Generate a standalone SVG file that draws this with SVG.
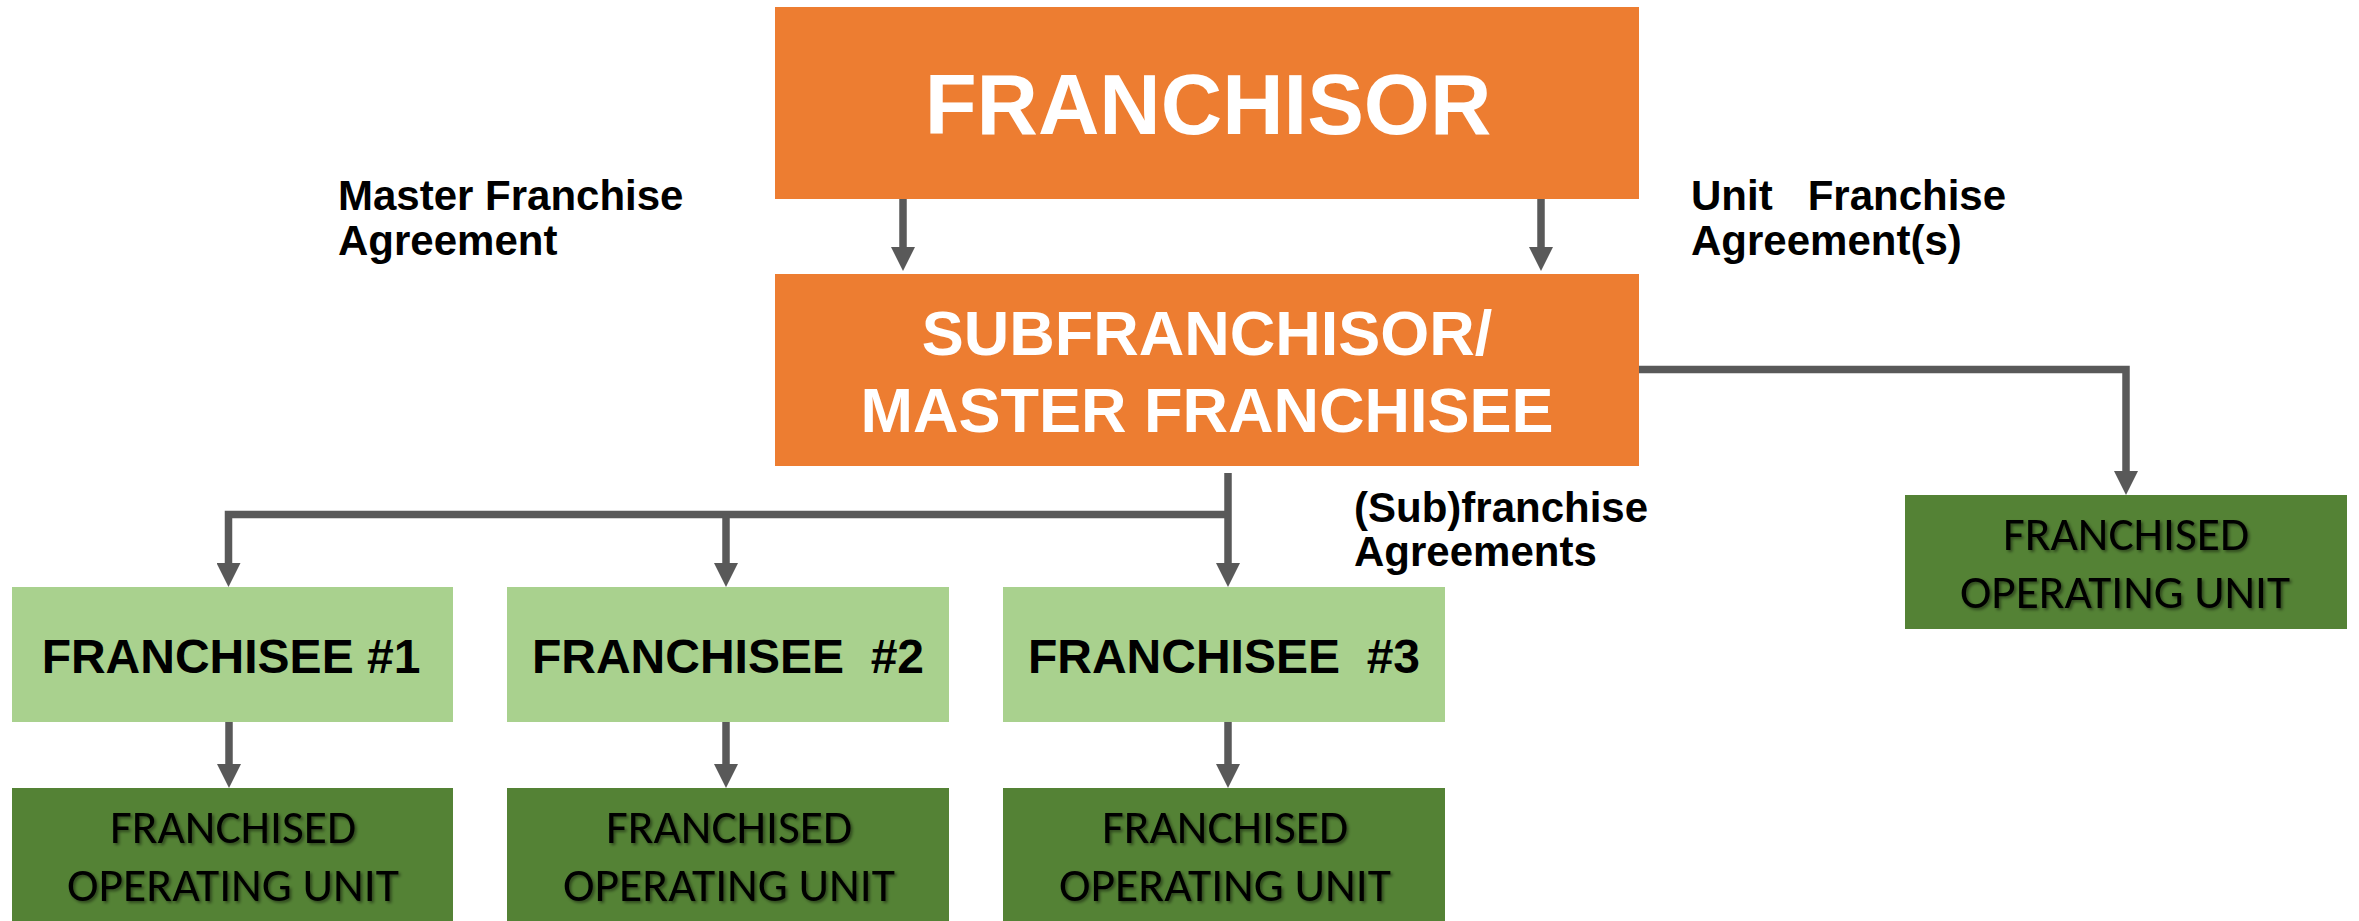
<svg xmlns="http://www.w3.org/2000/svg" width="2359" height="921" viewBox="0 0 2359 921">
  <style>
    .orange { fill: #ED7D31; }
    .light { fill: #A9D18E; }
    .dark { fill: #548235; }
    .title { font-family: "Liberation Sans", Arial, sans-serif; font-weight: bold; fill: #FFFFFF; text-anchor: middle; }
    .franchisee { font-family: "Liberation Sans", Arial, sans-serif; font-weight: bold; font-size: 48px; fill: #000000; text-anchor: middle; white-space: pre; }
    .unit { font-family: Carlito, "Open Sans", sans-serif; font-size: 48px; fill: #000000; text-anchor: middle; filter: url(#soft); }
    .label { font-family: "Liberation Sans", Arial, sans-serif; font-weight: bold; font-size: 42px; fill: #000000; white-space: pre; }
    .conn { fill: none; stroke: #595959; stroke-width: 7.5; stroke-linejoin: miter; marker-end: url(#head); }
  </style>
  <defs>
    <marker id="head" viewBox="0 0 24 24" refX="0" refY="12" markerWidth="24" markerHeight="24" markerUnits="userSpaceOnUse" orient="auto">
      <path d="M0,0 L24,12 L0,24 z" fill="#595959"/>
    </marker>
    <filter id="soft" x="-10%" y="-30%" width="120%" height="160%">
      <feDropShadow dx="2" dy="2" stdDeviation="1.5" flood-color="#000000" flood-opacity="0.45"/>
    </filter>
  </defs>

  <rect width="2359" height="921" fill="#FFFFFF"/>

  <!-- connectors -->
  <g id="connectors">
    <path class="conn" d="M903,199 V247"/>
    <path class="conn" d="M1541,199 V247"/>
    <path class="conn" d="M1639,369.5 H2126 V471"/>
    <path class="conn" d="M1228,473 V563"/>
    <path class="conn" d="M1228,514.5 H228.5 V563"/>
    <path class="conn" d="M726,514.5 V563"/>
    <path class="conn" d="M229,717 V764"/>
    <path class="conn" d="M726,717 V764"/>
    <path class="conn" d="M1228,717 V764"/>
  </g>

  <!-- edge labels -->
  <g id="label-master">
    <text class="label" x="338" y="210">Master Franchise</text>
    <text class="label" x="338" y="255">Agreement</text>
  </g>
  <g id="label-unit">
    <text class="label" x="1691" y="210">Unit   Franchise</text>
    <text class="label" x="1691" y="255">Agreement(s)</text>
  </g>
  <g id="label-sub">
    <text class="label" x="1354" y="522">(Sub)franchise</text>
    <text class="label" x="1354" y="566">Agreements</text>
  </g>

  <!-- top level -->
  <g id="franchisor">
    <rect class="orange" x="775" y="7" width="864" height="192"/>
    <text class="title" x="1208" y="134" font-size="85">FRANCHISOR</text>
  </g>
  <g id="subfranchisor">
    <rect class="orange" x="775" y="274" width="864" height="192"/>
    <text class="title" x="1207" y="355" font-size="63">SUBFRANCHISOR/</text>
    <text class="title" x="1207" y="432" font-size="63">MASTER FRANCHISEE</text>
  </g>

  <!-- franchisees -->
  <g id="franchisee-1">
    <rect class="light" x="12" y="587" width="441" height="135"/>
    <text class="franchisee" x="231" y="673">FRANCHISEE #1</text>
  </g>
  <g id="franchisee-2">
    <rect class="light" x="507" y="587" width="442" height="135"/>
    <text class="franchisee" x="728" y="673">FRANCHISEE  #2</text>
  </g>
  <g id="franchisee-3">
    <rect class="light" x="1003" y="587" width="442" height="135"/>
    <text class="franchisee" x="1224" y="673">FRANCHISEE  #3</text>
  </g>

  <!-- operating units -->
  <g id="unit-1">
    <rect class="dark" x="12" y="788" width="441" height="133"/>
    <text class="unit" x="233" y="843" textLength="246" lengthAdjust="spacingAndGlyphs">FRANCHISED</text>
    <text class="unit" x="233" y="901" textLength="332" lengthAdjust="spacingAndGlyphs">OPERATING UNIT</text>
  </g>
  <g id="unit-2">
    <rect class="dark" x="507" y="788" width="442" height="133"/>
    <text class="unit" x="729" y="843" textLength="246" lengthAdjust="spacingAndGlyphs">FRANCHISED</text>
    <text class="unit" x="729" y="901" textLength="332" lengthAdjust="spacingAndGlyphs">OPERATING UNIT</text>
  </g>
  <g id="unit-3">
    <rect class="dark" x="1003" y="788" width="442" height="133"/>
    <text class="unit" x="1225" y="843" textLength="246" lengthAdjust="spacingAndGlyphs">FRANCHISED</text>
    <text class="unit" x="1225" y="901" textLength="332" lengthAdjust="spacingAndGlyphs">OPERATING UNIT</text>
  </g>
  <g id="unit-direct">
    <rect class="dark" x="1905" y="495" width="442" height="134"/>
    <text class="unit" x="2126" y="550" textLength="246" lengthAdjust="spacingAndGlyphs">FRANCHISED</text>
    <text class="unit" x="2125" y="608" textLength="330" lengthAdjust="spacingAndGlyphs">OPERATING UNIT</text>
  </g>
</svg>
